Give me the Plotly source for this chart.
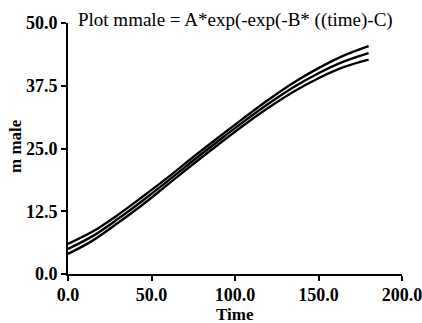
import plotly.graph_objects as go

time = [0, 15, 30, 45, 60, 75, 90, 105, 120, 135, 150, 165, 180]
fit = [5.0, 7.6, 11.0, 14.7, 18.6, 22.6, 26.5, 30.3, 33.9, 37.2, 40.0, 42.3, 44.0]
upper = [6.0, 8.5, 11.8, 15.5, 19.3, 23.3, 27.2, 31.0, 34.7, 38.1, 41.0, 43.5, 45.4]
lower = [4.0, 6.7, 10.2, 13.9, 17.9, 21.9, 25.8, 29.6, 33.1, 36.3, 39.0, 41.2, 42.7]

x_ticks = [0, 50, 100, 150, 200]
x_labels = ["0.0", "50.0", "100.0", "150.0", "200.0"]
y_ticks = [0, 12.5, 25, 37.5, 50]
y_labels = ["0.0", "12.5", "25.0", "37.5", "50.0"]

title_text = "Plot mmale = A*exp(-exp(-B* ((time)-C)"
x_title = "Time"
y_title = "m male"

fig = go.Figure()
for ys in (upper, fit, lower):
    fig.add_trace(go.Scatter(x=time, y=ys, mode="lines",
                             line=dict(color="black", width=2.4, shape="spline"),
                             showlegend=False, hoverinfo="skip"))

font = "'Times New Roman', 'Liberation Serif', 'DejaVu Serif', serif"
L, R, T, B = 68, 20, 23, 49
W, H = 422, 323
plot_w = W - L - R
plot_h = H - T - B


def px_x(p):
    return (p - L) / plot_w


def px_y(p):
    return (H - B - p) / plot_h


fig.update_layout(
    width=W, height=H,
    margin=dict(l=L, r=R, t=T, b=B, autoexpand=False),
    paper_bgcolor="white", plot_bgcolor="white",
    font=dict(family=font, color="black"),
    showlegend=False,
    annotations=[
        dict(text=title_text, x=px_x(76), xref="paper", xanchor="left",
             y=px_y(20), yref="paper", yanchor="middle", showarrow=False,
             font=dict(family=font, size=19, color="black")),
        dict(text=x_title, x=0.5, xref="paper", xanchor="center",
             y=px_y(314), yref="paper", yanchor="middle", showarrow=False,
             font=dict(family=font, size=17, color="black", weight="bold")),
        dict(text=y_title, x=px_x(15), xref="paper", xanchor="center",
             y=px_y(146), yref="paper", yanchor="middle", showarrow=False,
             textangle=-90,
             font=dict(family=font, size=17, color="black", weight="bold")),
    ],
)

fig.update_xaxes(range=[0, 200], tickvals=x_ticks, ticktext=x_labels,
                 showline=True, linecolor="black", linewidth=2,
                 ticks="outside", ticklen=5, tickwidth=2, tickcolor="black",
                 showgrid=False, zeroline=False, ticklabeloverflow="allow",
                 ticklabelstandoff=-2, automargin=False,
                 tickfont=dict(family=font, size=18, color="black", weight="bold"))
fig.update_yaxes(range=[0, 50], tickvals=y_ticks, ticktext=y_labels,
                 showline=True, linecolor="black", linewidth=2,
                 ticks="outside", ticklen=5, tickwidth=2, tickcolor="black",
                 showgrid=False, zeroline=False, ticklabeloverflow="allow",
                 automargin=False,
                 tickfont=dict(family=font, size=18, color="black", weight="bold"))

fig.write_html("out.html", config={"displayModeBar": False},
               post_script="document.body.style.margin='0px';")
